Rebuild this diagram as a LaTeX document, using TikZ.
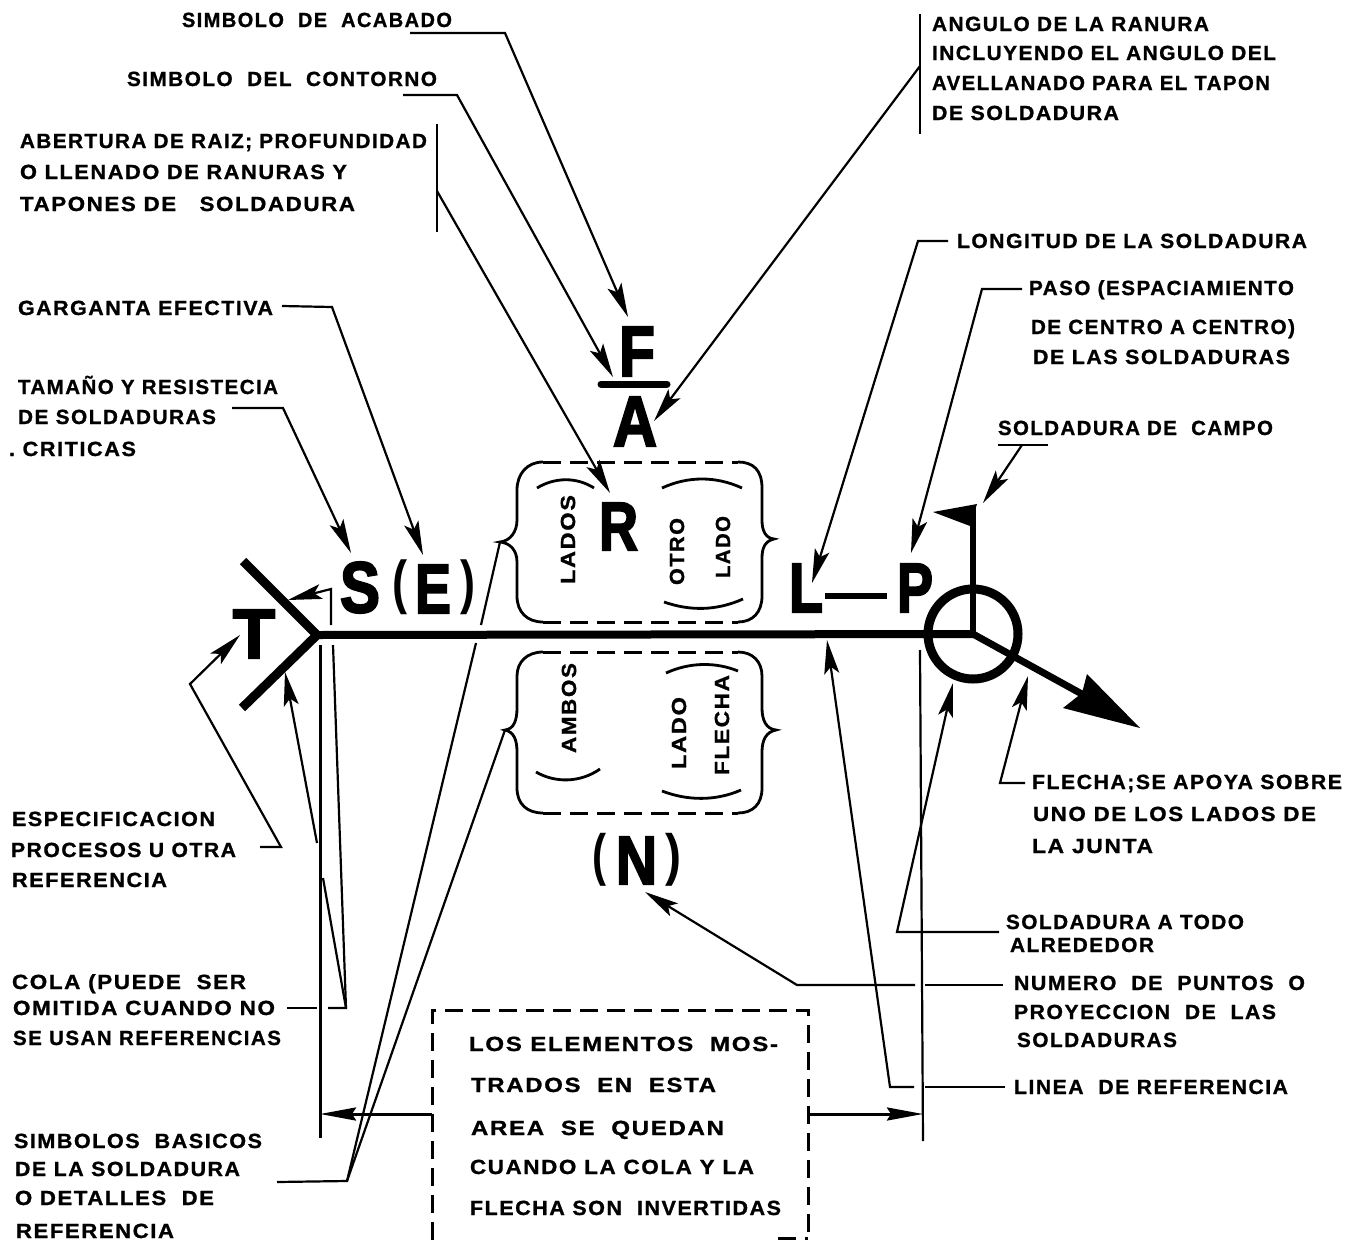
\documentclass[tikz,border=0pt]{standalone}
\usepackage{fontspec}
\usepackage{graphicx}
\setmainfont{Liberation Sans}
\usetikzlibrary{arrows.meta}
\tikzset{
  lab/.style={inner sep=0pt,outer sep=0pt,anchor=base,font=\fontsize{20.5}{20.5}\selectfont\bfseries\addfontfeature{LetterSpace=7,FakeBold=1}},
  rlab/.style={inner sep=0pt,outer sep=0pt,anchor=center,rotate=90,font=\fontsize{20.5}{20.5}\selectfont\bfseries\addfontfeature{LetterSpace=7,FakeBold=1}},
  big/.style={inner sep=0pt,outer sep=0pt,anchor=center,font=\fontsize{60}{60}\selectfont\bfseries\addfontfeature{FakeBold=3}},
  bigparen/.style={inner sep=0pt,outer sep=0pt,anchor=center,font=\fontsize{60}{60}\selectfont\bfseries},
  thin line/.style={line width=2.2pt,line join=miter},
  bar line/.style={line width=2.8pt},
  lead/.style={thin line,-{Stealth[length=34pt,width=15pt,inset=7pt]}},
  thick weld/.style={line width=8pt},
  dash line/.style={line width=3pt,dash pattern=on 18pt off 9pt},
  brace line/.style={line width=2.8pt},
}
\newcommand\lab[5]{\node[lab] (#1) at ({(#2+#3)/2},#4+7) {\resizebox{\dimexpr #3pt-#2pt\relax}{\height}{#5}};}
\newcommand\rlab[5]{\node[rlab] (#1) at (#2,{(#3+#4)/2}) {\resizebox{\dimexpr #4pt-#3pt\relax}{\height}{#5}};}
\newcommand\bigt[6]{\node[big] (#1) at ({(#2+#3)/2},{(#4+#5)/2}) {\resizebox*{\dimexpr #3pt-#2pt\relax}{\dimexpr #5pt-#4pt\relax}{#6}};}
\newcommand\bigp[6]{\node[bigparen] (#1) at ({(#2+#3)/2},{(#4+#5)/2}) {\resizebox*{\dimexpr #3pt-#2pt\relax}{\dimexpr #5pt-#4pt\relax}{#6}};}
\begin{document}
\begin{tikzpicture}[x=1pt,y=-1pt]
\useasboundingbox (0,0) rectangle (1361,1240);
% left and top labels
\lab{acabado}{182}{452}{20}{SIMBOLO\ \ DE\ \ ACABADO}
\lab{contorno}{127}{437}{79}{SIMBOLO\ \ DEL\ \ CONTORNO}
\lab{abert}{20}{427}{141}{ABERTURA DE RAIZ; PROFUNDIDAD}
\lab{llenado}{20}{347}{172}{O LLENADO DE RANURAS Y}
\lab{tapones}{20}{355}{204}{TAPONES DE \ \ SOLDADURA}
\lab{garganta}{18}{273}{308}{GARGANTA EFECTIVA}
\lab{tamano}{18}{278}{387}{TAMAÑO Y RESISTECIA}
\lab{desold}{18}{216}{417}{DE SOLDADURAS}
\lab{criticas}{9}{136}{449}{.\ CRITICAS}
\lab{espec}{12}{215}{819}{ESPECIFICACION}
\lab{procesos}{11}{236}{850}{PROCESOS U OTRA}
\lab{refa}{12}{167}{880}{REFERENCIA}
\lab{cola}{12}{246}{982}{COLA (PUEDE\ \ SER}
\lab{omitida}{13}{275}{1008}{OMITIDA CUANDO NO}
\lab{seusan}{13}{281}{1038}{SE USAN REFERENCIAS}
\lab{simbas}{14}{262}{1141}{SIMBOLOS\ \ BASICOS}
\lab{delasold}{15}{240}{1169}{DE LA SOLDADURA}
\lab{odet}{15}{214}{1198}{O DETALLES\ \ DE}
\lab{refb}{16}{174}{1231}{REFERENCIA}
% right labels
\lab{angulo}{932}{1209}{24}{ANGULO DE LA RANURA}
\lab{incl}{932}{1276}{53}{INCLUYENDO EL ANGULO DEL}
\lab{avell}{932}{1270}{83}{AVELLANADO PARA EL TAPON}
\lab{desoldb}{932}{1119}{113}{DE SOLDADURA}
\lab{longitud}{957}{1307}{241}{LONGITUD DE LA SOLDADURA}
\lab{paso}{1029}{1294}{288}{PASO (ESPACIAMIENTO}
\lab{decentro}{1031}{1295}{327}{DE CENTRO A CENTRO)}
\lab{delas}{1033}{1290}{357}{DE LAS SOLDADURAS}
\lab{campo}{998}{1273}{428}{SOLDADURA DE\ \ CAMPO}
\lab{flecha}{1032}{1342}{782}{FLECHA;SE APOYA SOBRE}
\lab{uno}{1033}{1316}{814}{UNO DE LOS LADOS DE}
\lab{junta}{1032}{1153}{846}{LA JUNTA}
\lab{todo}{1006}{1244}{922}{SOLDADURA A TODO}
\lab{alred}{1010}{1154}{945}{ALREDEDOR}
\lab{numero}{1014}{1305}{983}{NUMERO\ \ DE\ \ PUNTOS\ \ O}
\lab{proy}{1014}{1276}{1012}{PROYECCION\ \ DE\ \ LAS}
\lab{soldr}{1017}{1177}{1040}{SOLDADURAS}
\lab{linea}{1014}{1288}{1087}{LINEA\ \ DE REFERENCIA}
% box text
\lab{boxa}{469}{778}{1044}{LOS\ ELEMENTOS\ \ MOS-}
\lab{boxb}{471}{716}{1085}{TRADOS \ EN \ ESTA}
\lab{boxc}{471}{724}{1128}{AREA\ \ SE\ \ QUEDAN}
\lab{boxd}{470}{754}{1167}{CUANDO LA COLA Y LA}
\lab{boxe}{470}{781}{1208}{FLECHA SON\ \ INVERTIDAS}
% rotated labels
\rlab{lados}{568}{495}{584}{LADOS}
\rlab{otro}{677}{518}{585}{OTRO}
\rlab{lado}{723}{516}{578}{LADO}
\rlab{ambos}{569}{663}{753}{AMBOS}
\rlab{ladob}{679}{697}{769}{LADO}
\rlab{flechar}{722}{675}{775}{FLECHA}
% big letters
\bigt{S}{340}{380}{562}{613}{S}
\bigp{Eo}{392}{407}{560}{615}{(}
\bigt{E}{415}{451}{565}{613}{E}
\bigp{Ec}{460}{475}{560}{615}{)}
\bigt{T}{233}{275}{610}{658}{T}
\bigt{R}{599}{638}{503}{550}{R}
\bigt{L}{789}{823}{564}{612}{L}
\bigt{P}{897}{933}{564}{612}{P}
\bigt{F}{619}{655}{327}{376}{F}
\bigt{A}{613}{657}{397}{446}{A}
\bigp{No}{592}{606}{833}{886}{(}
\bigt{N}{616}{657}{837}{884}{N}
\bigp{Nc}{665}{681}{833}{886}{)}
% named points
\coordinate (v) at (317,635);
\coordinate (c) at (973,634);
\coordinate (tailU) at (243,561);
\coordinate (tailD) at (242,708);
\coordinate (poleTop) at (973,505);
\coordinate (arrowEnd) at (1100,704);
\coordinate (dashA) at (825,596);
\coordinate (dashB) at (887,596);
\coordinate (barA) at (601,384);
\coordinate (barB) at (667,384);
% weld symbol
\draw[line width=9pt] (tailU) -- (v) -- (tailD);
\draw[thick weld] (v) -- (c);
\node[draw,circle,line width=9pt,minimum size=90pt,inner sep=0pt] (allround) at (c) {};
\draw[line width=6.5pt] (c) -- (poleTop);
\fill (977,504) -- (933,512) -- (970,526) -- cycle;
\draw[line width=7pt] (c) -- (arrowEnd);
\fill (1140,728) -- (1087,674) -- (1082,693) -- (1063,708) -- cycle;
\draw[line width=6pt] (dashA) -- (dashB);
\draw[line width=7pt,line cap=round] (barA) -- (barB);
% top leaders
\coordinate (a1) at (410,33); \coordinate (a2) at (505,33); \coordinate (a3) at (628,317);
\draw[lead] (a1) -- (a2) -- (a3);
\coordinate (b1) at (403,95); \coordinate (b2) at (457,95); \coordinate (b3) at (613,377);
\draw[lead] (b1) -- (b2) -- (b3);
\coordinate (ab1) at (437,124); \coordinate (ab2) at (437,232); \coordinate (ab3) at (437,191); \coordinate (ab4) at (610,493);
\draw[bar line] (ab1) -- (ab2);
\draw[lead] (ab3) -- (ab4);
\coordinate (an1) at (920,14); \coordinate (an2) at (920,134); \coordinate (an3) at (920,66); \coordinate (an4) at (654,421);
\draw[bar line] (an1) -- (an2);
\draw[lead] (an3) -- (an4);
\coordinate (g1) at (282,306); \coordinate (g2) at (332,307); \coordinate (g3) at (423,555);
\draw[lead] (g1) -- (g2) -- (g3);
\coordinate (t1) at (232,408); \coordinate (t2) at (283,408); \coordinate (t3) at (351,553);
\draw[lead] (t1) -- (t2) -- (t3);
% T leader
\coordinate (sp1) at (260,847); \coordinate (sp2) at (281,847); \coordinate (sp3) at (190,684); \coordinate (sp4) at (240,635);
\draw[lead] (sp1) -- (sp2) -- (sp3) -- (sp4);
% tail (cola) leaders
\coordinate (co1) at (287,1008); \coordinate (co2) at (317,1008); \coordinate (co3) at (328,1008); \coordinate (co4) at (346,1008);
\coordinate (co5) at (285,672); \coordinate (co6) at (333,645); \coordinate (co7) at (331,625); \coordinate (co8) at (331,589); \coordinate (co9) at (288,600);
\coordinate (co10) at (323,878); \coordinate (co11) at (317,843);
\draw[thin line] (co1) -- (co2);
\draw[thin line] (co3) -- (co4) -- (co6);
\draw[thin line] (co4) -- (co10);
\draw[lead] (co11) -- (co5);
\draw[lead] (co7) -- (co8) -- (co9);
% extension lines and box arrows
\coordinate (e1) at (320.5,645); \coordinate (e2) at (320.5,1138);
\coordinate (e3) at (920,650); \coordinate (e4) at (923,1141);
\draw[thin line] (e1) -- (e2);
\draw[thin line] (e3) -- (e4);
\coordinate (bxl) at (432,1114); \coordinate (bxr) at (808,1114);
\coordinate (tl) at (320,1114); \coordinate (tr) at (923,1114);
\draw[line width=3pt,-{Stealth[length=36pt,width=13pt,inset=4pt]}] (bxl) -- (tl);
\draw[line width=3pt,-{Stealth[length=36pt,width=13pt,inset=4pt]}] (bxr) -- (tr);
% dashed box
\coordinate (d1) at (432,1240); \coordinate (d2) at (432,1010); \coordinate (d3) at (808,1010); \coordinate (d4) at (808,1240);
\coordinate (d5) at (778,1238);
\draw[dash line] (d1) -- (d2) -- (d3) -- (d4);
\draw[dash line] (d5) -- (d4 |- d5);
% simbolos basicos leaders
\coordinate (s1) at (277,1182); \coordinate (s2) at (347,1181);
\coordinate (s3) at (476,643); \coordinate (s4) at (481,625); \coordinate (s5) at (500,542); \coordinate (s6) at (505,730);
\draw[thin line] (s1) -- (s2) -- (s3);
\draw[thin line] (s4) -- (s5);
\draw[thin line] (s2) -- (s6);
% right-hand leaders
\coordinate (l1) at (948,241); \coordinate (l2) at (918,241); \coordinate (l3) at (812,583);
\draw[lead] (l1) -- (l2) -- (l3);
\coordinate (p1) at (1022,289); \coordinate (p2) at (982,289); \coordinate (p3) at (911,553);
\draw[lead] (p1) -- (p2) -- (p3);
\coordinate (ca1) at (998,445); \coordinate (ca2) at (1048,445); \coordinate (ca3) at (1022,445); \coordinate (ca4) at (983,503);
\draw[thin line] (ca1) -- (ca2);
\draw[lead] (ca3) -- (ca4);
\coordinate (f1) at (1025,783); \coordinate (f2) at (1000,783); \coordinate (f3) at (1028,676);
\draw[lead] (f1) -- (f2) -- (f3);
\coordinate (o1) at (999,932); \coordinate (o2) at (897,932); \coordinate (o3) at (953,683);
\draw[lead] (o1) -- (o2) -- (o3);
\coordinate (n1) at (1003,985); \coordinate (n2) at (925,985); \coordinate (n3) at (915,985); \coordinate (n4) at (797,985); \coordinate (n5) at (645,892);
\draw[thin line] (n1) -- (n2);
\draw[lead] (n3) -- (n4) -- (n5);
\coordinate (r1) at (1005,1087); \coordinate (r2) at (925,1087); \coordinate (r3) at (914,1087); \coordinate (r4) at (890,1087); \coordinate (r5) at (827,640);
\draw[thin line] (r1) -- (r2);
\draw[lead] (r3) -- (r4) -- (r5);
% upper brace frame
\draw[brace line] (543,462) .. controls (527,462) and (517,474) .. (517,490) -- (517,520) .. controls (517,532) and (510,541) .. (500,542) .. controls (510,543) and (517,550) .. (517,562) -- (517,596) .. controls (517,612) and (527,622) .. (543,622);
\draw[brace line] (738,462) .. controls (753,462) and (762,470) .. (762,488) -- (762,520) .. controls (762,530) and (765,538) .. (774,539) .. controls (765,541) and (762,548) .. (762,558) -- (762,596) .. controls (762,612) and (753,622) .. (738,622);
\draw[dash line] (543,462) -- (738,462);
\draw[dash line] (543,622) -- (738,622);
% lower brace frame
\draw[brace line] (543,652) .. controls (527,652) and (517,662) .. (517,676) -- (517,708) .. controls (517,720) and (514,729) .. (505,730) .. controls (514,732) and (517,740) .. (517,752) -- (517,788) .. controls (517,804) and (527,813) .. (543,813);
\draw[brace line] (738,652) .. controls (753,652) and (762,662) .. (762,676) -- (762,708) .. controls (762,720) and (766,729) .. (776,730) .. controls (766,732) and (762,740) .. (762,752) -- (762,788) .. controls (762,804) and (753,813) .. (738,813);
\draw[dash line] (543,652) -- (738,652);
\draw[dash line] (543,813) -- (738,813);
% small arcs
\draw[brace line] (537,488) .. controls (555,477) and (577,477) .. (594,488);
\draw[brace line] (662,488) .. controls (688,476) and (716,476) .. (742,488);
\draw[brace line] (664,602) .. controls (690,611) and (716,611) .. (743,599);
\draw[brace line] (666,673) .. controls (690,662) and (716,662) .. (738,671);
\draw[brace line] (536,772) .. controls (555,783) and (580,783) .. (600,769);
\draw[brace line] (662,791) .. controls (688,801) and (716,801) .. (741,790);
\end{tikzpicture}
\end{document}
